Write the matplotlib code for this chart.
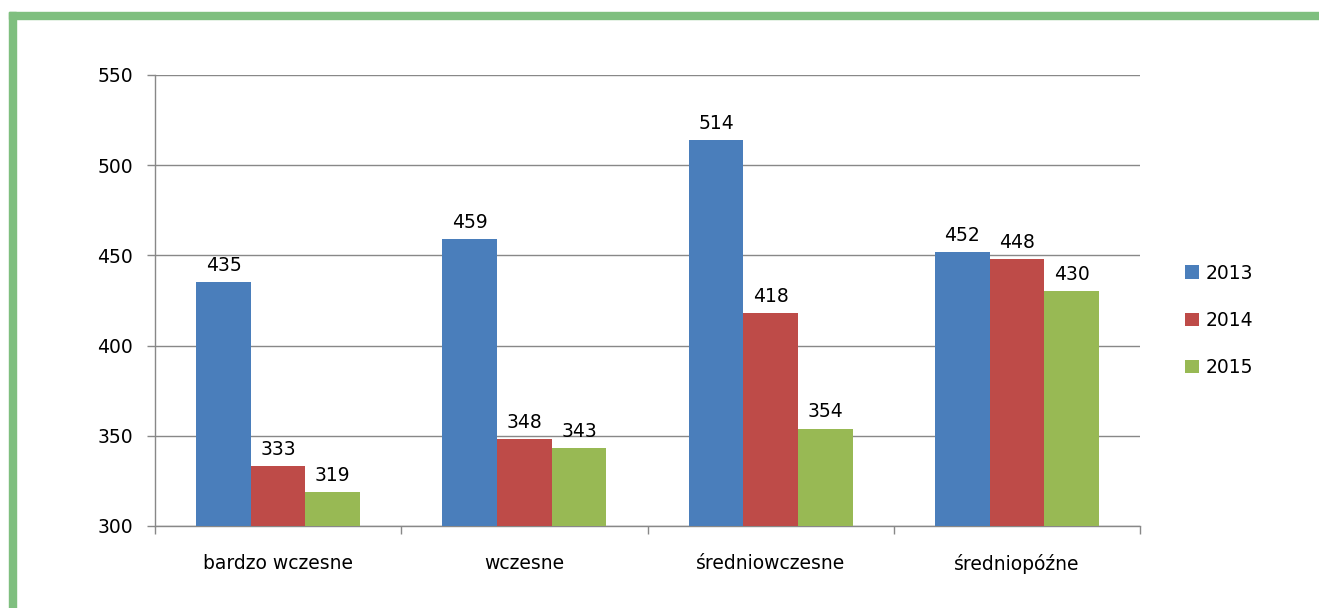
import matplotlib
matplotlib.use("Agg")
import matplotlib.pyplot as plt
from matplotlib.patches import Rectangle
import numpy as np

categories = ["bardzo wczesne", "wczesne", "średniowczesne", "średniopóźne"]
series_names = ["2013", "2014", "2015"]
v2013 = [435, 459, 514, 452]
v2014 = [333, 348, 418, 448]
v2015 = [319, 343, 354, 430]
colors = ["#4a7ebb", "#be4b48", "#98b954"]
yticks = [300, 350, 400, 450, 500, 550]

plt.rcParams['font.family'] = ['DejaVu Sans']
FS = 13.5

fig = plt.figure(figsize=(13.19, 6.08), dpi=100)
W, H = 1319, 608
ax = fig.add_axes([155 / W, 1 - 526 / H, (1140 - 155) / W, (526 - 75) / H])

x = np.arange(len(categories))
bw = 0.222
for i, (vals, name, c) in enumerate(zip([v2013, v2014, v2015], series_names, colors)):
    pos = x + (i - 1) * bw
    ax.bar(pos, np.array(vals) - 300, bottom=300, width=bw, color=c, label=name, zorder=3)
    for p, v in zip(pos, vals):
        ax.text(p, v + 4, str(v), ha="center", va="bottom", fontsize=FS, color="#000000")

ax.set_ylim(300, 550)
ax.set_xlim(-0.5, len(categories) - 0.5)
ax.set_yticks(yticks)
ax.set_yticklabels([str(t) for t in yticks], fontsize=FS)
ax.yaxis.grid(True, color="#888888", linewidth=1.0, zorder=0)
ax.set_axisbelow(True)
ax.set_xticks(x)
ax.set_xticklabels(categories, fontsize=FS)
ax.tick_params(axis="x", length=0, pad=20)
ax.set_xticks(np.arange(len(categories) + 1) - 0.5, minor=True)
ax.tick_params(axis="x", which="minor", length=6, color="#888888", width=1)
ax.tick_params(axis="y", length=6, color="#888888", width=1, pad=10)
for s in ["top", "right"]:
    ax.spines[s].set_visible(False)
for s in ["left", "bottom"]:
    ax.spines[s].set_color("#888888")
    ax.spines[s].set_linewidth(1)

ax.legend(loc="upper left", bbox_to_anchor=(1168 / W, 1 - 247 / H), bbox_transform=fig.transFigure,
          frameon=False, fontsize=FS, handlelength=0.75, handleheight=0.75, labelspacing=1.5,
          handletextpad=0.35)

# green border
fig.patches.append(Rectangle((9 / W, -0.1), 7 / W, 1.0 - 12 / H + 0.1, transform=fig.transFigure,
                             color="#7fbf7f", zorder=10))
fig.patches.append(Rectangle((9 / W, 1 - 19 / H), 1.0, 7 / H, transform=fig.transFigure,
                             color="#7fbf7f", zorder=10))

fig.savefig("out.png", dpi=100)
